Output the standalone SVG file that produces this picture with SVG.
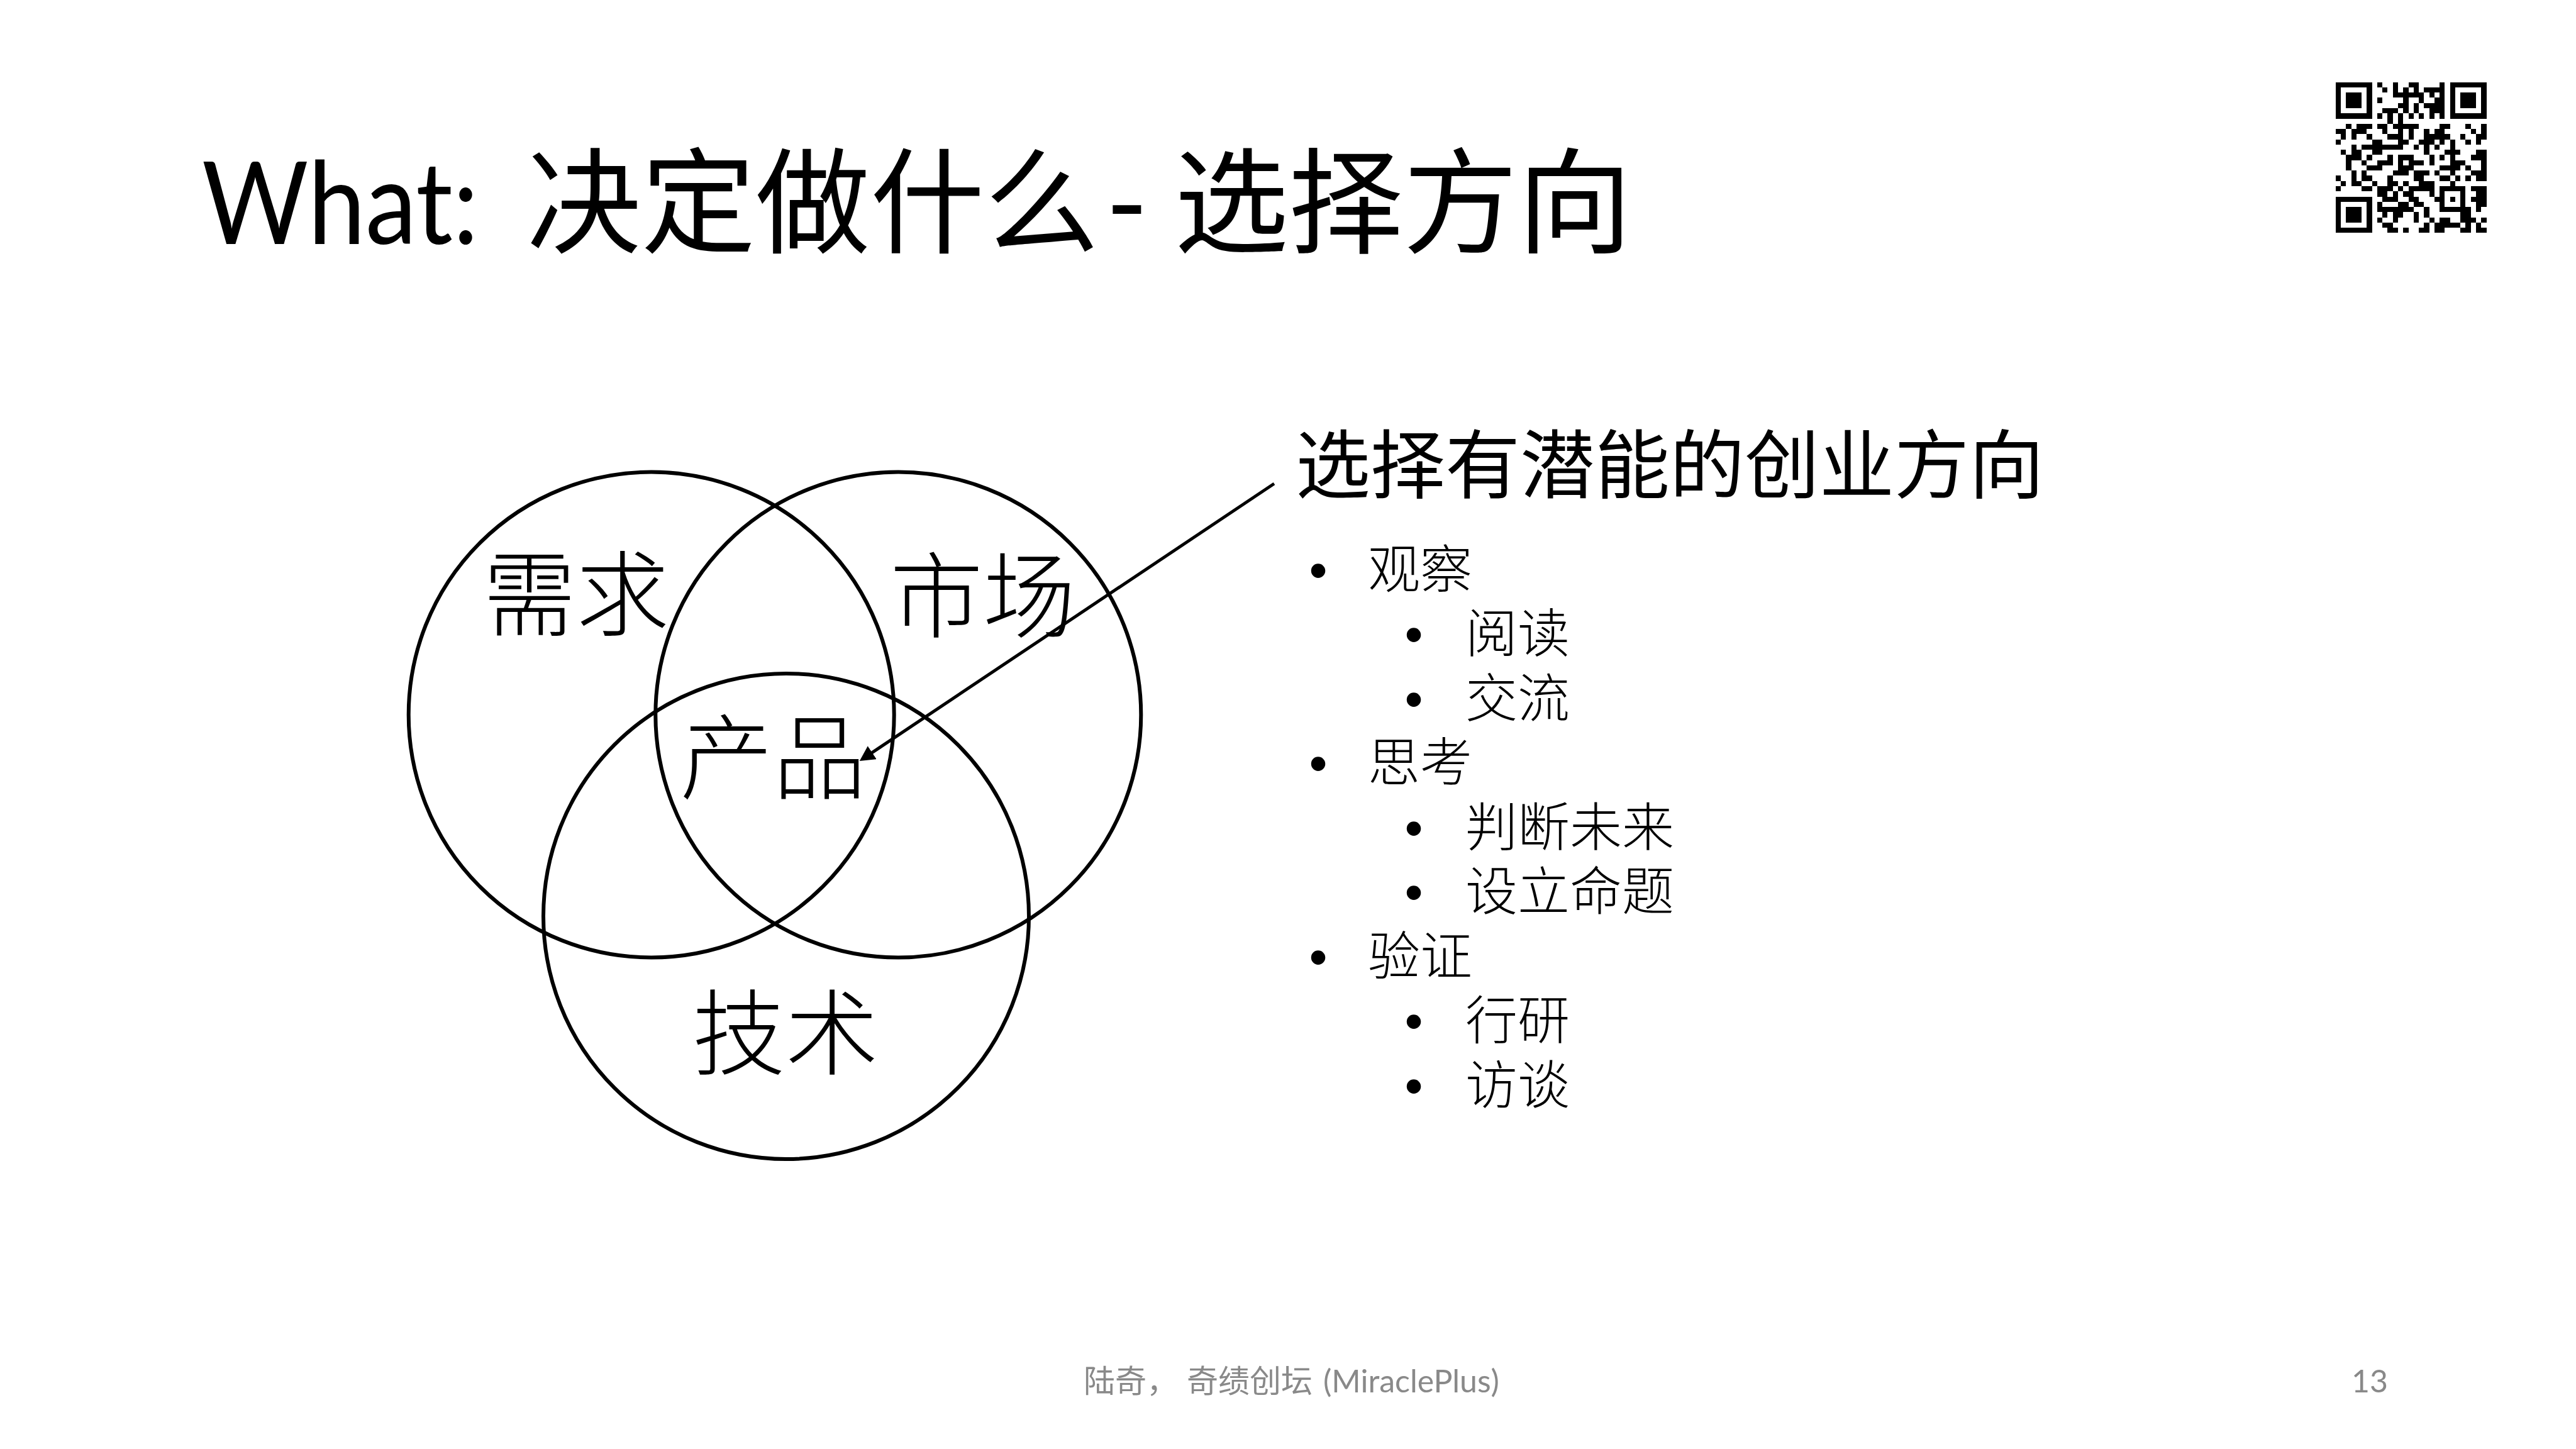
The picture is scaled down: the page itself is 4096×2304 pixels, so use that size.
<svg xmlns="http://www.w3.org/2000/svg" width="4096" height="2304" viewBox="0 0 4096 2304">
<defs>
<style>
.title{font-family:Lato,"Noto Sans CJK SC",sans-serif;font-size:182px;fill:#000}
.head{font-family:"Noto Sans CJK SC",sans-serif;font-size:119px;fill:#000}
.venn{font-family:"Noto Sans CJK SC",sans-serif;font-size:148px;font-weight:300;fill:#000;text-anchor:middle}
.item{font-family:"Noto Sans CJK SC",sans-serif;font-size:83px;font-weight:300;fill:#000}
.dot{font-family:"Liberation Sans",sans-serif;font-size:83px;fill:#000;text-anchor:middle}
.foot{font-family:Lato,"Noto Sans CJK SC",sans-serif;font-size:50px;fill:#898989}
.circle{fill:none;stroke:#000;stroke-width:6}
.conn{fill:none;stroke:#000;stroke-width:5}
</style>
<marker id="arrow" markerUnits="userSpaceOnUse" viewBox="0 0 24 25" refX="4" refY="12.5" markerWidth="24" markerHeight="25" orient="auto"><path d="M0,0 L24,12.5 L0,25 Z" fill="#000"/></marker>
</defs>
<rect width="4096" height="2304" fill="#fff"/>
<g id="title">
<text class="title" y="388"><tspan x="321" textLength="440" lengthAdjust="spacingAndGlyphs">What:</tspan><tspan x="791"> 决定做什么</tspan><tspan x="1758">- </tspan><tspan x="1867">选择方向</tspan></text>
</g>
<g id="qr-code" transform="translate(3713.8 130.7) scale(8.266)">
<path fill="#000" shape-rendering="crispEdges" d="M0 0h7v1h-7z M8 0h1v1h-1z M11 0h1v1h-1z M14 0h2v1h-2z M20 0h1v1h-1z M22 0h7v1h-7z
M0 1h1v1h-1z M6 1h1v1h-1z M9 1h1v1h-1z M11 1h1v1h-1z M13 1h1v1h-1z M15 1h1v1h-1z M17 1h4v1h-4z M22 1h1v1h-1z M28 1h1v1h-1z
M0 2h1v1h-1z M2 2h3v1h-3z M6 2h1v1h-1z M11 2h6v1h-6z M18 2h1v1h-1z M20 2h1v1h-1z M22 2h1v1h-1z M24 2h3v1h-3z M28 2h1v1h-1z
M0 3h1v1h-1z M2 3h3v1h-3z M6 3h1v1h-1z M8 3h1v1h-1z M13 3h1v1h-1z M16 3h1v1h-1z M19 3h2v1h-2z M22 3h1v1h-1z M24 3h3v1h-3z M28 3h1v1h-1z
M0 4h1v1h-1z M2 4h3v1h-3z M6 4h1v1h-1z M12 4h2v1h-2z M15 4h1v1h-1z M17 4h4v1h-4z M22 4h1v1h-1z M24 4h3v1h-3z M28 4h1v1h-1z
M0 5h1v1h-1z M6 5h1v1h-1z M9 5h3v1h-3z M13 5h1v1h-1z M15 5h1v1h-1z M18 5h3v1h-3z M22 5h1v1h-1z M28 5h1v1h-1z
M0 6h7v1h-7z M8 6h1v1h-1z M10 6h1v1h-1z M12 6h1v1h-1z M14 6h1v1h-1z M16 6h1v1h-1z M18 6h1v1h-1z M20 6h1v1h-1z M22 6h7v1h-7z
M10 7h1v1h-1z M12 7h1v1h-1z
M2 8h1v1h-1z M4 8h3v1h-3z M8 8h2v1h-2z M11 8h5v1h-5z M20 8h2v1h-2z M25 8h1v1h-1z M28 8h1v1h-1z
M0 9h2v1h-2z M3 9h3v1h-3z M9 9h1v1h-1z M12 9h1v1h-1z M14 9h1v1h-1z M17 9h1v1h-1z M19 9h2v1h-2z M26 9h1v1h-1z M28 9h1v1h-1z
M1 10h1v1h-1z M3 10h1v1h-1z M6 10h1v1h-1z M10 10h3v1h-3z M14 10h1v1h-1z M17 10h5v1h-5z M24 10h1v1h-1z M27 10h2v1h-2z
M0 11h1v1h-1z M7 11h2v1h-2z M12 11h2v1h-2z M16 11h3v1h-3z M20 11h1v1h-1z M22 11h1v1h-1z M25 11h1v1h-1z M27 11h1v1h-1z
M3 12h1v1h-1z M5 12h8v1h-8z M15 12h1v1h-1z M17 12h1v1h-1z M19 12h1v1h-1z M22 12h1v1h-1z
M1 13h1v1h-1z M3 13h2v1h-2z M7 13h2v1h-2z M17 13h1v1h-1z M21 13h3v1h-3z M27 13h2v1h-2z
M2 14h3v1h-3z M6 14h1v1h-1z M10 14h1v1h-1z M12 14h3v1h-3z M18 14h1v1h-1z M20 14h1v1h-1z M22 14h1v1h-1z M26 14h3v1h-3z
M2 15h1v1h-1z M5 15h1v1h-1z M8 15h3v1h-3z M12 15h1v1h-1z M14 15h3v1h-3z M18 15h1v1h-1z M22 15h3v1h-3z M28 15h1v1h-1z
M2 16h1v1h-1z M6 16h3v1h-3z M12 16h3v1h-3z M20 16h4v1h-4z M25 16h1v1h-1z M28 16h1v1h-1z
M3 17h1v1h-1z M5 17h1v1h-1z M11 17h3v1h-3z M15 17h3v1h-3z M19 17h1v1h-1z M22 17h1v1h-1z M26 17h3v1h-3z
M0 18h1v1h-1z M3 18h1v1h-1z M5 18h2v1h-2z M10 18h1v1h-1z M15 18h2v1h-2z M20 18h2v1h-2z M23 18h1v1h-1z M25 18h1v1h-1z M27 18h2v1h-2z
M1 19h1v1h-1z M3 19h2v1h-2z M7 19h1v1h-1z M10 19h2v1h-2z M13 19h1v1h-1z M16 19h3v1h-3z M22 19h1v1h-1z
M0 20h1v1h-1z M5 20h2v1h-2z M8 20h3v1h-3z M12 20h1v1h-1z M14 20h5v1h-5z M20 20h5v1h-5z M26 20h3v1h-3z
M8 21h2v1h-2z M11 21h1v1h-1z M13 21h2v1h-2z M18 21h1v1h-1z M20 21h1v1h-1z M24 21h1v1h-1z M27 21h2v1h-2z
M0 22h7v1h-7z M9 22h3v1h-3z M14 22h2v1h-2z M19 22h2v1h-2z M22 22h1v1h-1z M24 22h1v1h-1z M26 22h3v1h-3z
M0 23h1v1h-1z M6 23h1v1h-1z M8 23h1v1h-1z M12 23h2v1h-2z M15 23h2v1h-2z M20 23h1v1h-1z M24 23h1v1h-1z M27 23h2v1h-2z
M0 24h1v1h-1z M2 24h3v1h-3z M6 24h1v1h-1z M8 24h7v1h-7z M17 24h1v1h-1z M20 24h6v1h-6z M27 24h1v1h-1z
M0 25h1v1h-1z M2 25h3v1h-3z M6 25h1v1h-1z M9 25h1v1h-1z M11 25h2v1h-2z M15 25h1v1h-1z M17 25h1v1h-1z M24 25h2v1h-2z
M0 26h1v1h-1z M2 26h3v1h-3z M6 26h1v1h-1z M8 26h1v1h-1z M11 26h1v1h-1z M15 26h1v1h-1z M18 26h1v1h-1z M20 26h2v1h-2z M24 26h3v1h-3z M28 26h1v1h-1z
M0 27h1v1h-1z M6 27h1v1h-1z M9 27h2v1h-2z M17 27h1v1h-1z M19 27h5v1h-5z M25 27h1v1h-1z M27 27h1v1h-1z
M0 28h7v1h-7z M10 28h2v1h-2z M13 28h1v1h-1z M16 28h2v1h-2z M19 28h2v1h-2z M24 28h2v1h-2z M27 28h2v1h-2z"/>
</g>
<g id="node-xuqiu">
<circle class="circle" cx="1035.7" cy="1136.5" r="386"/>
<text class="venn" x="916" y="999">需求</text>
</g>
<g id="node-shichang">
<circle class="circle" cx="1428.3" cy="1136.5" r="386"/>
<text class="venn" x="1563" y="1002">市场</text>
</g>
<g id="node-jishu">
<circle class="circle" cx="1250" cy="1457" r="386"/>
<text class="venn" x="1249" y="1697">技术</text>
</g>
<g id="node-chanpin">
<text class="venn" x="1229" y="1259">产品</text>
</g>
<g id="node-direction">
<text class="head" x="2060" y="783">选择有潜能的创业方向</text>
<text class="dot" x="2096" y="934.5">•</text><text class="item" x="2175" y="934.5">观察</text>
<text class="dot" x="2248" y="1037">•</text><text class="item" x="2330" y="1037">阅读</text>
<text class="dot" x="2248" y="1139.5">•</text><text class="item" x="2330" y="1139.5">交流</text>
<text class="dot" x="2096" y="1242">•</text><text class="item" x="2175" y="1242">思考</text>
<text class="dot" x="2248" y="1344.5">•</text><text class="item" x="2330" y="1344.5">判断未来</text>
<text class="dot" x="2248" y="1447">•</text><text class="item" x="2330" y="1447">设立命题</text>
<text class="dot" x="2096" y="1549.5">•</text><text class="item" x="2175" y="1549.5">验证</text>
<text class="dot" x="2248" y="1652">•</text><text class="item" x="2330" y="1652">行研</text>
<text class="dot" x="2248" y="1754.5">•</text><text class="item" x="2330" y="1754.5">访谈</text>
</g>
<g id="connectors">
<line class="conn" x1="2026" y1="769" x2="1383.4" y2="1198.9" marker-end="url(#arrow)"/>
</g>
<g id="footer">
<text class="foot" y="2214"><tspan x="1723">陆奇， </tspan><tspan x="1887">奇绩创坛 </tspan><tspan x="2104">(MiraclePlus)</tspan></text>
<text class="foot" x="3797" y="2214" text-anchor="end">13</text>
</g>
</svg>
